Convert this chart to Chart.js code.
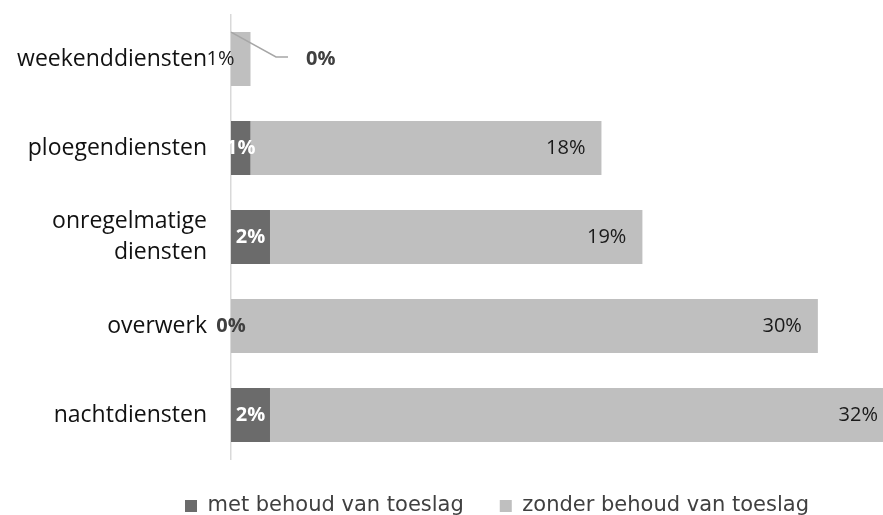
<!DOCTYPE html>
<html lang="nl">
<head>
    <meta charset="utf-8">
    <title>Toeslagen per soort dienst</title>
    <style>
        body { margin: 0; background: #fff; }
    </style>
</head>
<body>
    <canvas id="chart" width="883" height="515"></canvas>
    <script src="https://cdn.jsdelivr.net/npm/chart.js@4/dist/chart.umd.min.js"></script>

    <script>
        var categories = ['weekenddiensten', 'ploegendiensten', ['onregelmatige', 'diensten'], 'overwerk', 'nachtdiensten'];
        var metBehoud = [0, 1, 2, 0, 2];
        var zonderBehoud = [1, 18, 19.1, 30.1, 32];
        var seriesNames = ['met behoud van toeslag', 'zonder behoud van toeslag'];

        // percentage labels, drawn on top of the bars
        var valueLabels = {
            id: 'valueLabels',
            afterDatasetsDraw: function(chart) {
                var ctx = chart.ctx;
                ctx.save();
                ctx.textBaseline = 'middle';

                chart.getDatasetMeta(1).data.forEach(function(bar, i) {
                    ctx.font = '20px "Open Sans"';
                    ctx.fillStyle = '#1a1a1a';
                    ctx.textAlign = 'right';
                    ctx.fillText(Math.round(zonderBehoud[i]) + '%', bar.x - 16, bar.y);
                });

                chart.getDatasetMeta(0).data.forEach(function(bar, i) {
                    var txt = Math.round(metBehoud[i]) + '%';
                    ctx.font = 'bold 20px "Open Sans"';
                    if (i === 0) {
                        // weekend: label pulled out with a leader line
                        var top = bar.y - bar.height / 2;
                        ctx.strokeStyle = '#a6a6a6';
                        ctx.lineWidth = 1.5;
                        ctx.beginPath();
                        ctx.moveTo(bar.base, top);
                        ctx.lineTo(bar.base + 45, bar.y - 2);
                        ctx.lineTo(bar.base + 57, bar.y - 2);
                        ctx.stroke();
                        ctx.fillStyle = '#404040';
                        ctx.textAlign = 'left';
                        ctx.fillText(txt, bar.base + 75, bar.y);
                    } else if (metBehoud[i] < 0.5) {
                        ctx.fillStyle = '#404040';
                        ctx.textAlign = 'center';
                        ctx.fillText(txt, bar.x, bar.y);
                    } else {
                        ctx.fillStyle = '#ffffff';
                        ctx.textAlign = 'center';
                        ctx.fillText(txt, (bar.base + bar.x) / 2, bar.y);
                    }
                });
                ctx.restore();
            }
        };

        var ctx = document.getElementById('chart');
        var barChart = new Chart(ctx, {
            type: 'bar',
            data: {
                labels: categories,
                datasets: [{
                    label: seriesNames[0],
                    data: metBehoud,
                    backgroundColor: '#6b6b6b',
                    borderWidth: 0,
                    barPercentage: 0.606,
                    categoryPercentage: 1
                }, {
                    label: seriesNames[1],
                    data: zonderBehoud,
                    backgroundColor: '#bfbfbf',
                    borderWidth: 0,
                    barPercentage: 0.606,
                    categoryPercentage: 1
                }]
            },
            options: {
                indexAxis: 'y',
                responsive: false,
                animation: false,
                devicePixelRatio: 1,
                layout: {
                    // negative right padding only moves the legend to the right
                    padding: { left: 0, top: 14.5, right: -111, bottom: -11.5 }
                },
                scales: {
                    x: {
                        stacked: true,
                        display: false,
                        min: 0,
                        max: 33.44
                    },
                    y: {
                        stacked: true,
                        grid: { display: false, drawTicks: false },
                        border: { display: true, color: '#d9d9d9', width: 1.5 },
                        ticks: {
                            padding: 24,
                            color: '#111111',
                            font: { family: '"Open Sans"', size: 23, lineHeight: 1.35 }
                        },
                        afterFit: function(scale) {
                            scale.width = 231;
                            scale.paddingTop = 0;
                            scale.paddingBottom = 0;
                        }
                    }
                },
                plugins: {
                    legend: {
                        position: 'bottom',
                        labels: {
                            boxWidth: 12,
                            boxHeight: 12,
                            padding: 36,
                            color: '#404040',
                            font: { family: '"DejaVu Sans"', size: 21 }
                        }
                    },
                    tooltip: { enabled: false }
                }
            },
            plugins: [valueLabels]
        });
    </script>
</body>
</html>
